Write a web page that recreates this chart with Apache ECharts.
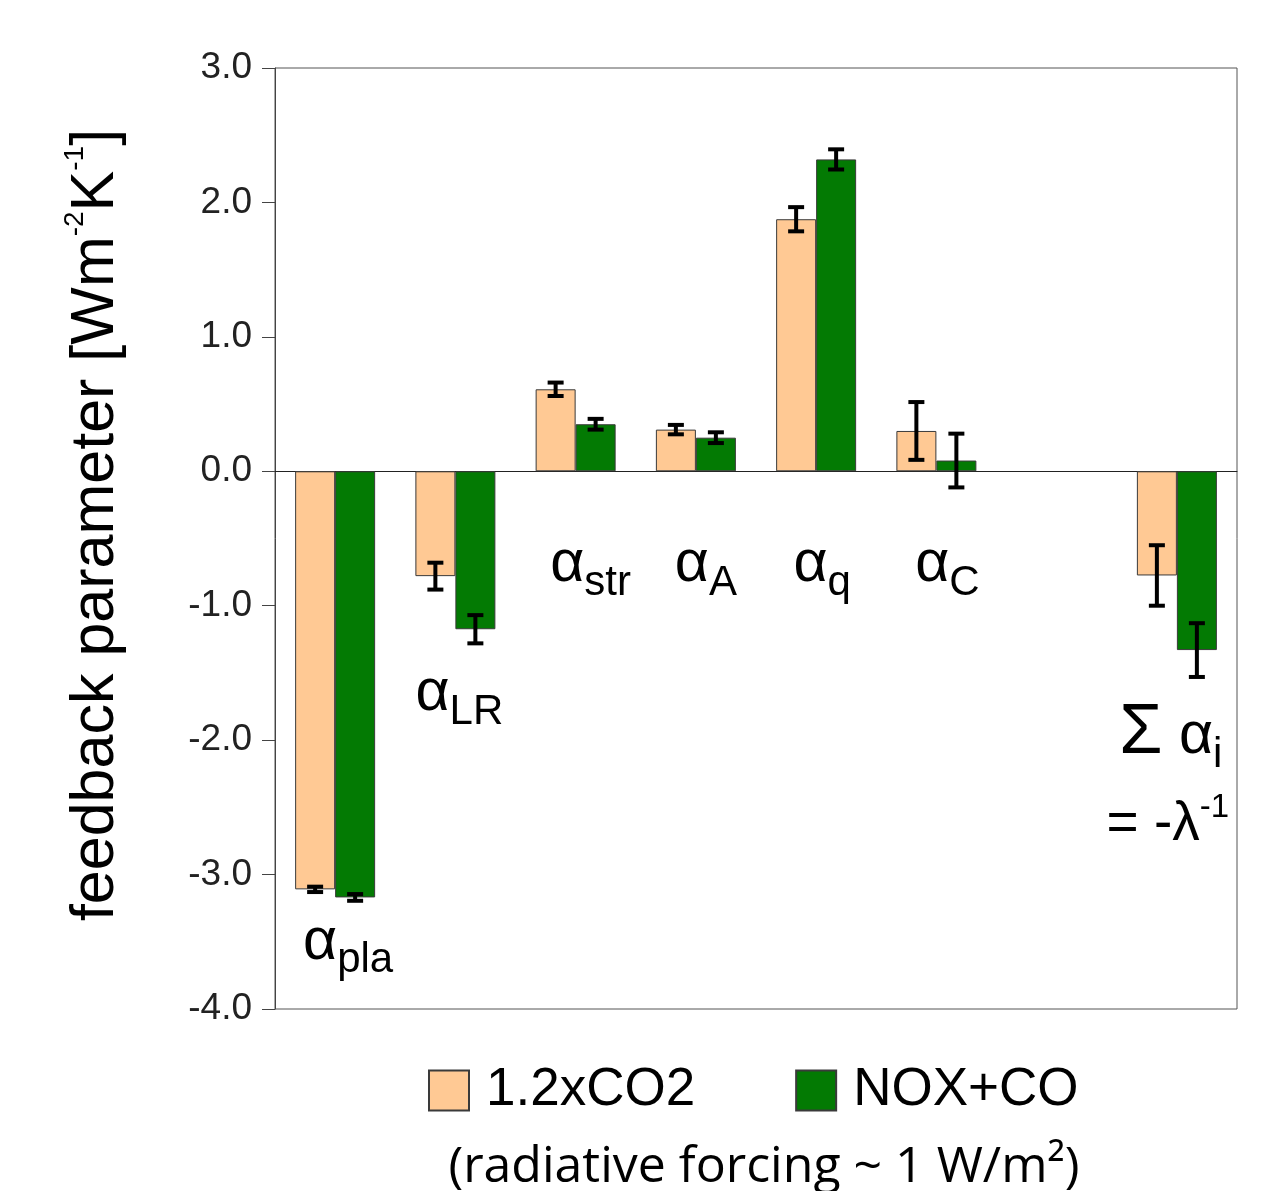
<!DOCTYPE html>
<html>
<head>
<meta charset="utf-8">
<script src="https://cdn.jsdelivr.net/npm/echarts@6/dist/echarts.min.js"></script>
<style>
  html, body { margin: 0; padding: 0; background: #fff; }
  #chart { width: 1279px; height: 1191px; }
</style>
</head>
<body>
<div id="chart"></div>
<script>
const chart = echarts.init(document.getElementById('chart'));

// feedback terms (slot 6 is an empty gap before the sum)
const categories = ['pla', 'LR', 'str', 'A', 'q', 'C', '', 'sum'];
const co2 = [-3.11, -0.78, 0.61, 0.31, 1.875, 0.30, null, -0.775];
const co2Err = [0.02, 0.10, 0.05, 0.035, 0.09, 0.215, null, 0.225];
const nox = [-3.17, -1.175, 0.35, 0.25, 2.32, 0.08, null, -1.33];
const noxErr = [0.025, 0.105, 0.04, 0.04, 0.075, 0.20, null, 0.20];
const seriesNames = ['1.2xCO2', 'NOX+CO'];

const FONT = 'Liberation Sans';
const MID = 0.347; // canvas "middle" -> alphabetic baseline, Liberation Sans

const measureCtx = document.createElement('canvas').getContext('2d');
function textWidth(str, size, family) {
  measureCtx.font = size + 'px "' + family + '"';
  return measureCtx.measureText(str).width;
}

// lay out text with sub/superscripts on a common baseline (y = 0)
function partsText(parts, sz, family) {
  const kinds = {
    n: { size: sz.n, dy: 0 },
    b: { size: sz.b || sz.n, dy: 0 },
    s: { size: sz.s, dy: sz.sdy },
    p: { size: sz.p, dy: sz.pdy }
  };
  let x = 0;
  const children = parts.map(function (p) {
    const k = kinds[p[1]];
    const el = {
      type: 'text',
      x: x,
      y: k.dy - MID * k.size,
      style: {
        text: p[0],
        fontSize: k.size,
        fontFamily: family,
        fill: '#000',
        align: 'left',
        verticalAlign: 'middle'
      }
    };
    x += textWidth(p[0], k.size, family);
    return el;
  });
  return { children: children, width: x };
}

const labelSize = { n: 59, b: 70, s: 42, sdy: 12, p: 32, pdy: -25 };
// annotations: category slot, y of the alpha baseline (axis units), nudge in px
const notes = [
  { cat: 0, y: -3.66, dx: 13, parts: [['α', 'n'], ['pla', 's']] },
  { cat: 1, y: -1.81, dx: 4, parts: [['α', 'n'], ['LR', 's']] },
  { cat: 2, y: -0.85, dx: 15, parts: [['α', 'n'], ['str', 's']] },
  { cat: 3, y: -0.85, dx: 10, parts: [['α', 'n'], ['A', 's']] },
  { cat: 4, y: -0.85, dx: 6, parts: [['α', 'n'], ['q', 's']] },
  { cat: 5, y: -0.85, dx: 11, parts: [['α', 'n'], ['C', 's']] },
  { cat: 7, y: -2.13, dx: -6, parts: [['Σ', 'b'], [' α', 'n'], ['i', 's']] },
  { cat: 7, y: -2.77, dx: -9, size: { n: 55, s: 30, sdy: 0, p: 33, pdy: -24 }, parts: [['= -λ', 'n'], ['-1', 'p']] }
];

function barSeries(name, values, color) {
  return {
    name: name,
    type: 'bar',
    barWidth: 40,
    barGap: '0%',
    itemStyle: { color: color, borderColor: '#3a3a3a', borderWidth: 1 },
    data: values.map(function (v) { return v == null ? '-' : v; }),
    z: 2
  };
}

function errorSeries(values, errs, shift) {
  const data = [];
  values.forEach(function (v, i) {
    if (v != null) data.push([i, v, errs[i]]);
  });
  return {
    type: 'custom',
    name: 'err' + shift,
    data: data,
    z: 5,
    silent: true,
    renderItem: function (params, api) {
      const i = api.value(0), v = api.value(1), e = api.value(2);
      const top = api.coord([i, v + e]);
      const bot = api.coord([i, v - e]);
      const x = top[0] + shift;
      const half = 8;
      const st = { stroke: '#000', lineWidth: 4 };
      return {
        type: 'group',
        children: [
          { type: 'line', shape: { x1: x, y1: top[1], x2: x, y2: bot[1] }, style: st },
          { type: 'line', shape: { x1: x - half, y1: top[1], x2: x + half, y2: top[1] }, style: st },
          { type: 'line', shape: { x1: x - half, y1: bot[1], x2: x + half, y2: bot[1] }, style: st }
        ]
      };
    }
  };
}

const noteSeries = {
  type: 'custom',
  name: 'notes',
  silent: true,
  z: 6,
  data: notes.map(function (n, idx) { return [n.cat, n.y, idx]; }),
  renderItem: function (params, api) {
    const n = notes[api.value(2)];
    const p = api.coord([api.value(0), api.value(1)]);
    const t = partsText(n.parts, n.size || labelSize, FONT);
    return {
      type: 'group',
      x: p[0] - t.width / 2 + n.dx,
      y: p[1],
      children: t.children
    };
  }
};

const yName = partsText(
  [['feedback parameter [Wm', 'n'], ['-2', 'p'], ['K', 'n'], ['-1', 'p'], [']', 'n']],
  { n: 61, s: 30, sdy: 0, p: 28, pdy: -32 },
  FONT
);

const option = {
  animation: false,
  backgroundColor: '#fff',
  grid: {
    left: 275, right: 42, top: 68, bottom: 182,
    show: true, borderColor: '#555', borderWidth: 1, backgroundColor: 'transparent'
  },
  legend: {
    data: seriesNames,
    left: 428,
    top: 1064,
    padding: 0,
    itemWidth: 40,
    itemHeight: 40,
    itemGap: 100,
    icon: 'rect',
    textStyle: { fontSize: 53, fontFamily: FONT, color: '#000', padding: [0, 0, 0, 12] }
  },
  xAxis: {
    type: 'category',
    data: categories,
    axisLine: { onZero: true, lineStyle: { color: '#222', width: 1 } },
    axisTick: { show: false },
    axisLabel: { show: false },
    splitLine: { show: false }
  },
  yAxis: {
    type: 'value',
    min: -4,
    max: 3,
    interval: 1,
    axisLine: { show: true, lineStyle: { color: '#444', width: 1 } },
    axisTick: { show: true, length: 13, lineStyle: { color: '#444' } },
    axisLabel: {
      margin: 23,
      fontSize: 37,
      fontFamily: FONT,
      color: '#222',
      formatter: function (v) { return v.toFixed(1); }
    },
    splitLine: { show: false }
  },
  graphic: [
    {
      type: 'group',
      x: 117,
      y: 525 + yName.width / 2,
      rotation: Math.PI / 2,
      children: yName.children
    },
    {
      type: 'text',
      x: 764,
      y: 1168,
      style: {
        text: '(radiative forcing ~ 1 W/m²)',
        fontSize: 50,
        fontFamily: 'Open Sans',
        fill: '#000',
        align: 'center',
        verticalAlign: 'middle'
      }
    }
  ],
  series: [
    barSeries(seriesNames[0], co2, '#FFC994'),
    barSeries(seriesNames[1], nox, '#037A03'),
    errorSeries(co2, co2Err, -20),
    errorSeries(nox, noxErr, 20),
    noteSeries
  ]
};

chart.setOption(option);
window.addEventListener('resize', function () { chart.resize(); });
</script>
</body>
</html>
